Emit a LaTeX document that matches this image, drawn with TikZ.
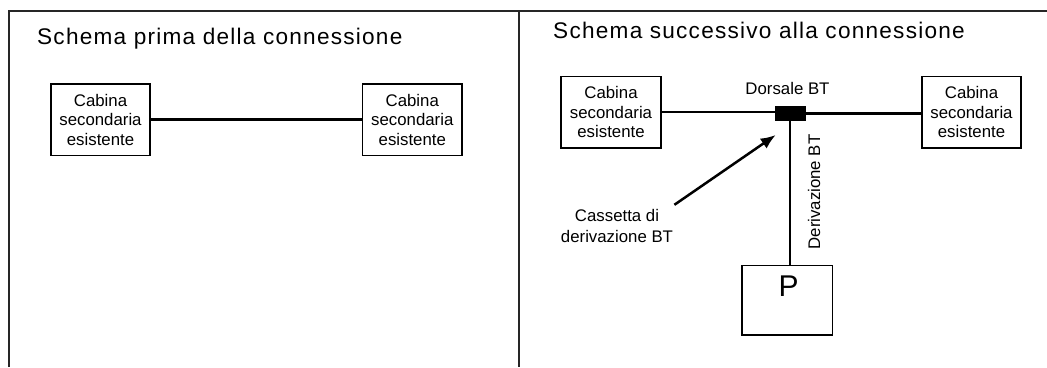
\documentclass[tikz,border=0pt]{standalone}
\usepackage{fontspec}
\setmainfont{Liberation Sans}
\newfontfamily\titlefont[LetterSpace=5.5]{Liberation Sans}
\usetikzlibrary{arrows.meta,calc}
\begin{document}
\begin{tikzpicture}[x=1pt,y=-1pt,
  frameline/.style={line width=2pt,draw=black!85},
  cab/.style={draw,line width=1.6pt,minimum width=99.5pt,minimum height=71.6pt,inner sep=0pt,align=center,
     font=\fontsize{16.8}{19.5}\selectfont},
  wire/.style={line width=2.3pt},
  ttl/.style={anchor=base west,inner sep=0pt,font=\titlefont\fontsize{22.6}{26}\selectfont},
  lbl/.style={inner sep=0pt,font=\fontsize{16.8}{21.5}\selectfont,align=center},
  arr/.style={line width=2.5pt,-{Latex[length=15pt,width=12pt]}}]
\useasboundingbox (0,0) rectangle (1047,367);
% frame
\coordinate (f1) at (8,11);
\coordinate (f2) at (1047,11);
\coordinate (f3) at (9,367);
\coordinate (f4) at (519,11);
\coordinate (f5) at (519,367);
\draw[frameline] (f3) -- (f1 -| f3) -- (f2);
\draw[frameline] (f4) -- (f5);
% left panel
\node[ttl] (t1) at (37,44) {Schema prima della connessione};
\node[cab] (a1) at (100.5,119.6) {Cabina\\secondaria\\esistente};
\node[cab] (a2) at (412.3,119.6) {Cabina\\secondaria\\esistente};
\draw[wire] (a1) -- (a2);
% right panel
\node[ttl] (t2) at (553,38) {Schema successivo alla connessione};
\node[cab] (b1) at (611,112.3) {Cabina\\secondaria\\esistente};
\node[cab] (b2) at (971.5,112.3) {Cabina\\secondaria\\esistente};
\node[draw,fill=black,minimum width=29.5pt,minimum height=14pt,inner sep=0pt] (dj) at (790,113.5) {};
\draw[wire] (b1.east) -- (b1.east -| dj.west);
\draw[wire] (dj.east) -- (b2.west |- dj.east);
\node[lbl,anchor=base] (dl) at (787.5,94.6) {Dorsale BT};
\node[draw,line width=1.6pt,minimum width=90.5pt,minimum height=69.4pt,inner sep=0pt] (P) at (787.3,300.3) {};
\node[inner sep=0pt,font=\fontsize{30}{30}\selectfont] (Pl) at (788.6,286.5) {P};
\draw[wire] (dj.south) -- (dj.south |- P.north);
\node[lbl,rotate=90] (dv) at (814,192) {Derivazione BT};
\node[lbl] (cas) at (617,226) {Cassetta di\\derivazione BT};
\coordinate (as) at (674.4,204.8);
\coordinate (at) at (775.7,135);
\draw[arr] (as) -- (at);
\end{tikzpicture}
\end{document}
